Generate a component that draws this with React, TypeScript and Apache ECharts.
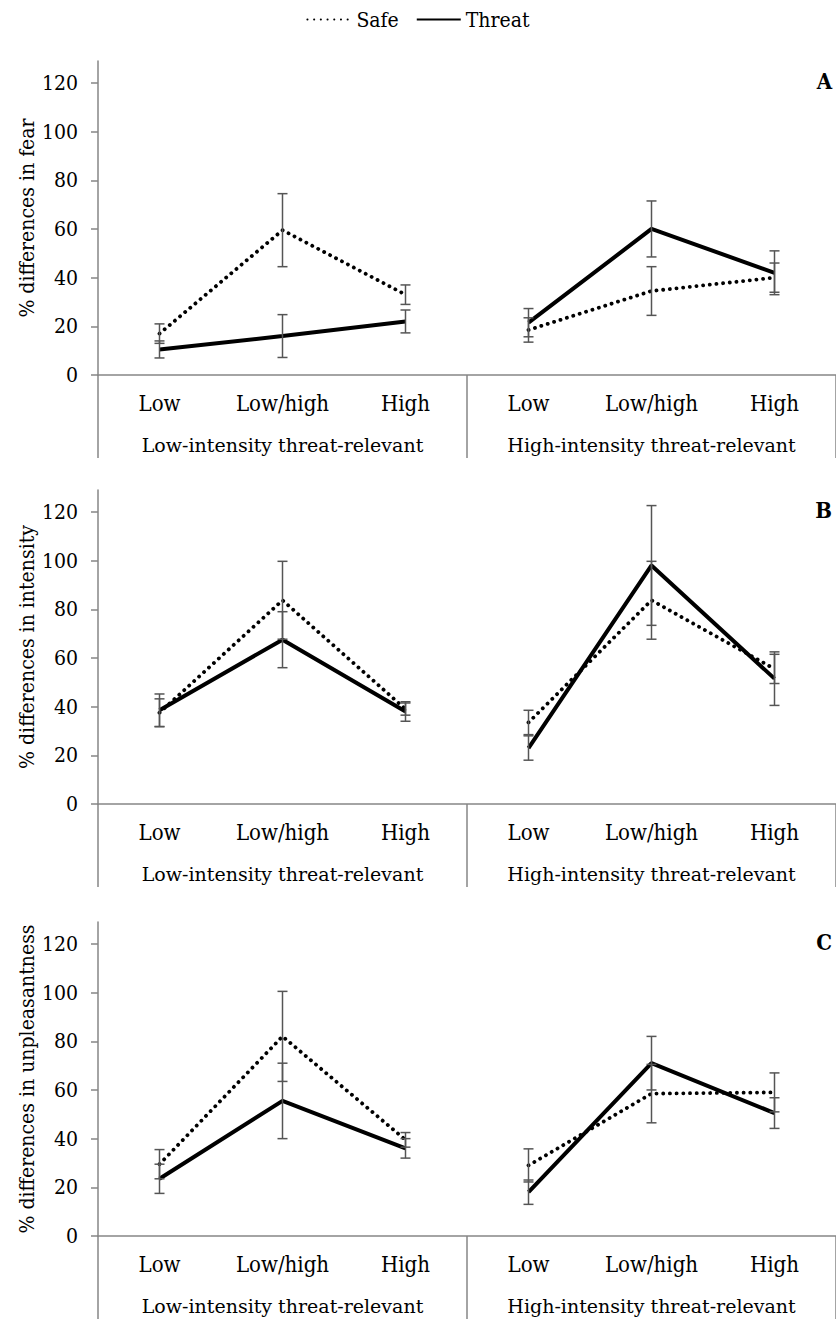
import React, { useEffect, useRef } from "react";
import * as echarts from "echarts";

const categories = ["Low", "Low/high", "High", "Low", "Low/high", "High"];
const groups = ["Low-intensity threat-relevant", "High-intensity threat-relevant"];
const yTicks = [0, 20, 40, 60, 80, 100, 120];

// Panel A: fear
const fearSafe = [17, 59.5, 33, 18.5, 34.5, 40];
const fearSafeErr = [4, 15, 4, 5, 10, 6];
const fearThreat = [10.5, 16, 22, 21.5, 60, 42];
const fearThreatErr = [3.5, 8.8, 4.7, 5.8, 11.5, 9];

// Panel B: intensity
const intSafe = [37.5, 83.7, 39, 33.5, 83.7, 55.5];
const intSafeErr = [5.7, 16, 2.5, 5, 16, 6];
const intThreat = [38.5, 67.5, 38, 23, 98, 51.5];
const intThreatErr = [6.7, 11.5, 4, 5, 24.6, 11];

// Panel C: unpleasantness
const unpSafe = [29.5, 82, 39.5, 29, 58.5, 59];
const unpSafeErr = [6, 18.5, 3, 6.8, 12, 8];
const unpThreat = [23.5, 55.5, 36, 18, 71, 50.5];
const unpThreatErr = [6, 15.5, 4, 5, 11, 6.3];

const panels = [
  { title: "% differences in fear", letter: "A", safe: fearSafe, safeErr: fearSafeErr, threat: fearThreat, threatErr: fearThreatErr },
  { title: "% differences in intensity", letter: "B", safe: intSafe, safeErr: intSafeErr, threat: intThreat, threatErr: intThreatErr },
  { title: "% differences in unpleasantness", letter: "C", safe: unpSafe, safeErr: unpSafeErr, threat: unpThreat, threatErr: unpThreatErr },
];

const FONT = "DejaVu Serif Condensed";
const FONT_GRP = "DejaVu Serif";
const AXIS_GRAY = "#868686";
const ERR_GRAY = "#555555";
const GRID_TOPS = [61, 490, 922];
const GRID_H = 314;
const Y_MAX = 129;

const SAFE_STYLE = { color: "#000", width: 3.8, type: [0.1, 6.6], cap: "round" };
const THREAT_STYLE = { color: "#000", width: 4 };

function errRender(params: any, api: any) {
  const x = api.value(0);
  const lo = api.coord([x, api.value(1)]);
  const hi = api.coord([x, api.value(2)]);
  const cw = 5;
  const style = { stroke: ERR_GRAY, lineWidth: 1.5 };
  return {
    type: "group",
    children: [
      { type: "line", shape: { x1: lo[0], y1: lo[1], x2: hi[0], y2: hi[1] }, style },
      { type: "line", shape: { x1: lo[0] - cw, y1: lo[1], x2: lo[0] + cw, y2: lo[1] }, style },
      { type: "line", shape: { x1: hi[0] - cw, y1: hi[1], x2: hi[0] + cw, y2: hi[1] }, style },
    ],
  };
}

// keep only one group's three points, leaving the rest empty
function part(values: number[], g: number) {
  return values.map((v, k) => (Math.floor(k / 3) === g ? v : null));
}

export default function App() {
  const ref = useRef<HTMLDivElement>(null);
  useEffect(() => {
    if (!ref.current) return;
    const chart = echarts.init(ref.current, null, { renderer: "svg" });
    const grids: any[] = [];
    const xAxes: any[] = [];
    const yAxes: any[] = [];
    const series: any[] = [];
    const graphics: any[] = [];
    panels.forEach((p, i) => {
      const top = GRID_TOPS[i];
      grids.push({ left: 98, right: -1, top, height: GRID_H });
      xAxes.push({
        type: "category",
        gridIndex: i,
        data: categories,
        position: "bottom",
        boundaryGap: true,
        axisLine: { show: true, lineStyle: { color: AXIS_GRAY, width: 1.5 } },
        axisTick: { show: false },
        axisLabel: { interval: 0, margin: 17, color: "#000", fontSize: 22, fontFamily: FONT },
      });
      xAxes.push({
        type: "category",
        gridIndex: i,
        data: groups,
        position: "bottom",
        boundaryGap: true,
        axisLine: { show: false },
        axisTick: { show: true, interval: 0, length: 83, lineStyle: { color: AXIS_GRAY, width: 1.5 } },
        axisLabel: { interval: 0, margin: 60, color: "#000", fontSize: 19, fontFamily: FONT_GRP },
      });
      yAxes.push({
        type: "value",
        gridIndex: i,
        min: 0,
        max: Y_MAX,
        name: p.title,
        nameLocation: "middle",
        nameGap: 61,
        nameMoveOverlap: false,
        nameTextStyle: { color: "#000", fontSize: 21, fontFamily: FONT },
        splitLine: { show: false },
        axisLine: { show: true, lineStyle: { color: AXIS_GRAY, width: 1.5 } },
        axisTick: { show: true, length: 7, customValues: yTicks, lineStyle: { color: AXIS_GRAY, width: 1.5 } },
        axisLabel: { margin: 20, customValues: yTicks, color: "#000", fontSize: 21, fontFamily: FONT },
      });
      [0, 1].forEach((g) => {
        series.push({
          type: "line",
          name: "Safe",
          xAxisIndex: 2 * i,
          yAxisIndex: i,
          data: part(p.safe, g),
          symbol: "none",
          connectNulls: false,
          z: 2,
          lineStyle: SAFE_STYLE,
          itemStyle: { color: "#000" },
        });
        series.push({
          type: "line",
          name: "Threat",
          xAxisIndex: 2 * i,
          yAxisIndex: i,
          data: part(p.threat, g),
          symbol: "none",
          connectNulls: false,
          z: 2,
          lineStyle: THREAT_STYLE,
          itemStyle: { color: "#000" },
        });
      });
      series.push({
        type: "custom",
        name: "errSafe" + i,
        xAxisIndex: 2 * i,
        yAxisIndex: i,
        renderItem: errRender,
        encode: { x: 0, y: [1, 2] },
        z: 3,
        data: p.safe.map((v, k) => [k, v - p.safeErr[k], v + p.safeErr[k]]),
      });
      series.push({
        type: "custom",
        name: "errThreat" + i,
        xAxisIndex: 2 * i,
        yAxisIndex: i,
        renderItem: errRender,
        encode: { x: 0, y: [1, 2] },
        z: 3,
        data: p.threat.map((v, k) => [k, v - p.threatErr[k], v + p.threatErr[k]]),
      });
      const zeroY = top + GRID_H;
      graphics.push({
        type: "text",
        right: 4,
        top: zeroY - GRID_H * (120 / Y_MAX) - 13,
        style: { text: p.letter, font: `bold 22px ${FONT}`, fill: "#000" },
      });
    });
    chart.setOption({
      animation: false,
      backgroundColor: "#fff",
      legend: {
        data: ["Safe", "Threat"],
        top: 4,
        left: "center",
        itemWidth: 44,
        itemHeight: 14,
        itemGap: 17,
        itemStyle: { opacity: 0 },
        textStyle: { color: "#000", fontSize: 21, fontFamily: FONT },
      },
      grid: grids,
      xAxis: xAxes,
      yAxis: yAxes,
      series,
      graphic: graphics,
    });
    return () => chart.dispose();
  }, []);
  return (
    <div
      ref={ref}
      style={{ position: "absolute", left: 0, top: 0, width: 836, height: 1324, background: "#fff" }}
    />
  );
}
